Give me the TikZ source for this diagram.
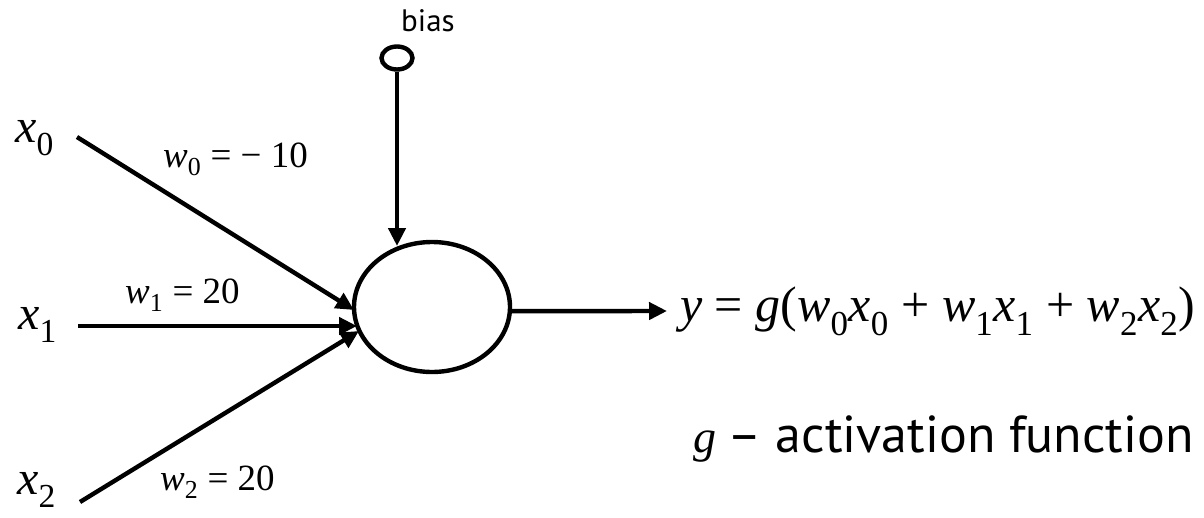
\documentclass[tikz,border=0pt]{standalone}
\usepackage{fontspec}
\setmainfont{Liberation Serif}
\newfontfamily\sff{PT Sans}
\usetikzlibrary{arrows.meta,shapes.geometric}
\newcommand{\vr}[2]{\textit{#1}\textsubscript{#2}}
\begin{document}
\begin{tikzpicture}[x=1pt,y=-1pt,
  conn/.style={line width=4.4pt,-{Triangle[length=18pt,width=17pt]}},
  lbl/.style={inner sep=0pt,anchor=base west},
  big/.style={font=\fontsize{48}{56}\selectfont},
  wt/.style={font=\fontsize{37}{42}\selectfont},
  unit/.style={draw,ellipse,line width=4.4pt,inner sep=0pt}]
\useasboundingbox (0,0) rectangle (1204,517);
% neuron
\node[unit,minimum width=156pt,minimum height=130pt] (sum) at (432,307) {};
\node[unit,minimum width=31pt,minimum height=23pt] (bias) at (397,58) {};
\node[lbl,font=\sff\fontsize{31}{34}\selectfont] (biaslbl) at (401,31) {bias};
% inputs
\node[lbl,big] (x0) at (15,142) {\vr{x}{0}};
\node[lbl,big] (x1) at (18,329) {\vr{x}{1}};
\node[lbl,big] (x2) at (17,494) {\vr{x}{2}};
\coordinate (s0) at (77,137);
\coordinate (s1) at (78,326);
\coordinate (s2) at (80,502);
\coordinate (t0) at (354,310);
\coordinate (t1) at (357,326);
\coordinate (t2) at (359,331);
\coordinate (tb) at (397,246);
\draw[conn] (s0) -- (t0);
\draw[conn] (s1) -- (t1);
\draw[conn] (s2) -- (t2);
\draw[conn] (bias.south) -- (tb);
% weights
\node[lbl,wt] (w0) at (163,167) {\vr{w}{0} = − 10};
\node[lbl,wt] (w1) at (125,303) {\vr{w}{1} = 20};
\node[lbl,wt] (w2) at (160,490) {\vr{w}{2} = 20};
% output
\node[lbl,font=\fontsize{50}{58}\selectfont] (out) at (680,321) {\textit{y} = \textit{g}(\vr{w}{0}\vr{x}{0} + \vr{w}{1}\vr{x}{1} + \vr{w}{2}\vr{x}{2})};
\coordinate (oe) at (667,311);
\draw[conn] (sum.-3) -- (oe);
\node[lbl] (act) at (693,452) {\fontsize{46}{52}\selectfont\textit{g} \sff\fontsize{52}{58}\selectfont – activation function};
\end{tikzpicture}
\end{document}
